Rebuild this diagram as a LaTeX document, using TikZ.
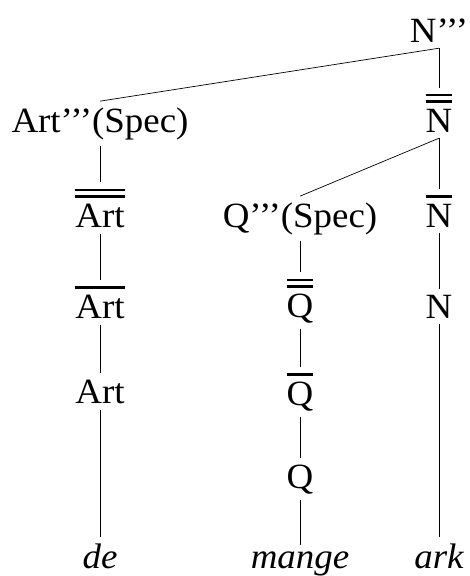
\documentclass[tikz,border=0pt]{standalone}
\usepackage{fontspec}
\setmainfont{Liberation Serif}[FakeStretch=1.04]
\newcommand\barone[1]{\vbox{\hrule height 2.5pt\kern 6pt\hbox{#1}}}
\newcommand\bartwo[1]{\vbox{\hrule height 2.5pt\kern 4pt\hrule height 2.5pt\kern 6pt\hbox{#1}}}
\begin{document}
\begin{tikzpicture}[x=1pt,y=-1pt,
  lab/.style={anchor=base,inner sep=6pt,font=\fontsize{35.5}{42}\selectfont},
  word/.style={lab,font=\fontsize{35.5}{42}\selectfont\itshape},
  edge/.style={line width=0.7pt}]
\useasboundingbox (0,0) rectangle (469,576);
% nodes
\node[lab] (n3) at (439,42) {N’’’};
\node[lab] (art3) at (100,132) {Art’’’(Spec)};
\node[lab] (n2) at (439,132) {\bartwo{N}};
\node[lab] (art2) at (100,227) {\bartwo{Art}};
\node[lab] (q3) at (300,227) {Q’’’(Spec)};
\node[lab] (n1) at (439,227) {\barone{N}};
\node[lab] (art1) at (100,318) {\barone{Art}};
\node[lab] (q2) at (300,317) {\bartwo{Q}};
\node[lab] (n0) at (439,318) {N};
\node[lab] (art0) at (100,403) {Art};
\node[lab] (q1) at (300,405) {\barone{Q}};
\node[lab] (q0) at (300,488) {Q};
\node[word] (de) at (100,568) {de};
\node[word] (mange) at (300,568) {mange};
\node[word] (ark) at (439,568) {ark};
% edges
\draw[edge] (n3.south) -- (art3.north);
\draw[edge] (n3.south) -- (n2.north);
\draw[edge] (n2.south) -- (q3.north);
\draw[edge] (n2.south) -- (n1.north);
\draw[edge] (art3.south) -- (art2.north);
\draw[edge] (art2.south) -- (art1.north);
\draw[edge] (art1.south) -- (art0.north);
\draw[edge] (art0.south) -- (de.north);
\draw[edge] (q3.south) -- (q2.north);
\draw[edge] (q2.south) -- (q1.north);
\draw[edge] (q1.south) -- (q0.north);
\draw[edge] (q0.south) -- (mange.north);
\draw[edge] (n1.south) -- (n0.north);
\draw[edge] (n0.south) -- (ark.north);
\end{tikzpicture}
\end{document}
